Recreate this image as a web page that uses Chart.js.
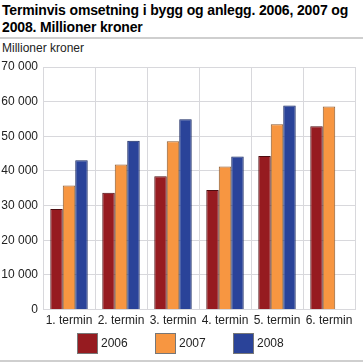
<!DOCTYPE html>
<html>
<head>
<meta charset="utf-8">
<script src="https://cdn.jsdelivr.net/npm/chart.js@4.4.0/dist/chart.umd.min.js"></script>
<style>
  html, body { margin: 0; padding: 0; background: #fff; }
  #wrap { position: relative; width: 363px; height: 363px; overflow: hidden; font-family: "Liberation Sans", Arial, sans-serif; }
  #title { position: absolute; left: 2px; top: 2px; white-space: nowrap; font-size: 14px; letter-spacing: -0.15px; font-weight: bold; line-height: 17px; color: #000; }
  #sep { position: absolute; left: 0; top: 37px; width: 363px; height: 2px; background: #cfcfcf; }
  #unit { position: absolute; left: 2px; top: 41px; font-size: 12px; color: #222; }
  #bot { position: absolute; left: 0; top: 360px; width: 363px; height: 2px; background: #cfcfcf; }
  #legend { position: absolute; left: 0; top: 333px; width: 363px; height: 20px; font-size: 12px; color: #222; }
  .item { position: absolute; top: 0; height: 20px; line-height: 20px; }
  .box { position: absolute; left: 0; top: 0; width: 19px; height: 19px; border: 1px solid #777; box-sizing: content-box; }
  .lab { position: absolute; left: 24px; top: 0; }
  canvas { position: absolute; left: 0; top: 0; }
</style>
</head>
<body>
<div id="wrap">
  <div id="title">Terminvis omsetning i bygg og anlegg. 2006, 2007 og<br>2008. Millioner kroner</div>
  <div id="sep"></div>
  <div id="unit">Millioner kroner</div>
  <canvas id="c" width="363" height="363"></canvas>
  <div id="legend"></div>
  <div id="bot"></div>
</div>
<script>
const categories = ["1. termin", "2. termin", "3. termin", "4. termin", "5. termin", "6. termin"];
const seriesNames = ["2006", "2007", "2008"];
const values2006 = [29000, 33700, 38500, 34500, 44300, 52900];
const values2007 = [35800, 41900, 48600, 41300, 53500, 58600];
const values2008 = [43100, 48700, 54900, 44200, 58900, null];
const yTicks = [0, 10000, 20000, 30000, 40000, 50000, 60000, 70000];

const fills = ["#961b20", "#f79641", "#2a4399"];
const borders = ["#4d0d10", "#8a5a30", "#13245e"];
const legendLeft = [77, 155, 233];

const fmt = v => String(v).replace(/\B(?=(\d{3})+(?!\d))/g, " ");

const data = {
  labels: categories,
  datasets: [values2006, values2007, values2008].map((vals, i) => ({
    label: seriesNames[i],
    data: vals,
    backgroundColor: fills[i],
    borderColor: borders[i],
    borderWidth: 1,
    categoryPercentage: 0.72,
    barPercentage: 1.0
  }))
};

const leg = document.getElementById("legend");
seriesNames.forEach((name, i) => {
  const it = document.createElement("div");
  it.className = "item";
  it.style.left = legendLeft[i] + "px";
  const b = document.createElement("div");
  b.className = "box";
  b.style.background = fills[i];
  const t = document.createElement("div");
  t.className = "lab";
  t.textContent = name;
  it.appendChild(b); it.appendChild(t);
  leg.appendChild(it);
});

Chart.defaults.font.family = '"Liberation Sans", Arial, sans-serif';
Chart.defaults.font.size = 12;
Chart.defaults.color = "#222";

new Chart(document.getElementById("c"), {
  type: "bar",
  data: data,
  options: {
    responsive: false,
    animation: false,
    layout: { padding: { left: 0, right: 8, top: 67, bottom: 31 } },
    plugins: {
      title: { display: false },
      tooltip: { enabled: false },
      legend: { display: false }
    },
    scales: {
      x: {
        grid: { color: "#d8d8dc", lineWidth: 1, offset: true, drawTicks: false },
        border: { color: "#d8d8dc" },
        ticks: { padding: 4, color: "#222", maxRotation: 0, autoSkip: false }
      },
      y: {
        min: 0,
        max: 70000,
        afterBuildTicks: s => { s.ticks = yTicks.map(v => ({ value: v })); },
        afterFit: s => { s.width = 43; },
        grid: { color: "#d8d8dc", lineWidth: 1, drawTicks: false },
        border: { color: "#d8d8dc" },
        ticks: { padding: 5, color: "#222", callback: v => fmt(v) }
      }
    }
  }
});
</script>
</body>
</html>
